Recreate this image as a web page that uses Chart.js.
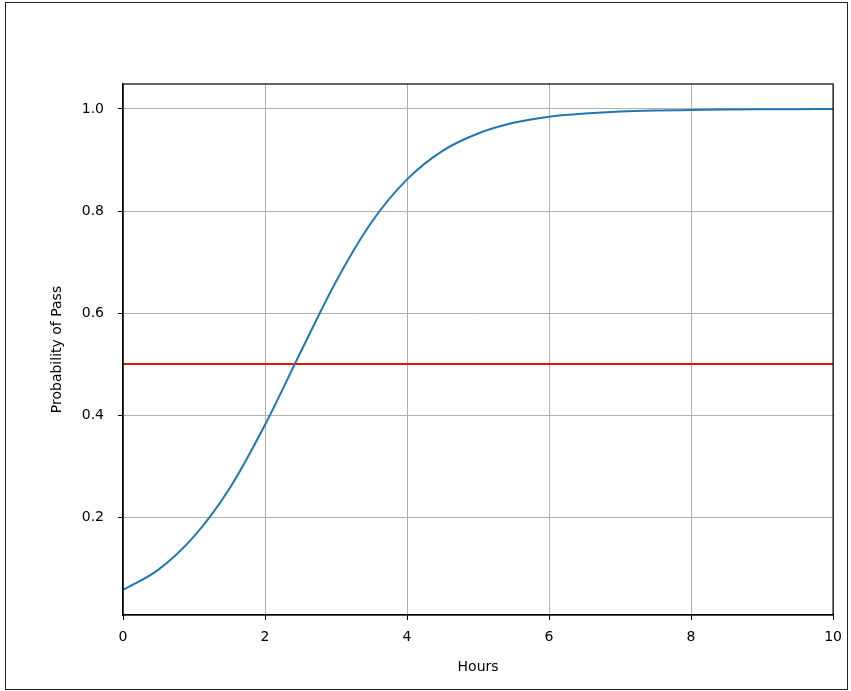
<!DOCTYPE html>
<html><head><meta charset="utf-8">
<script src="https://cdn.jsdelivr.net/npm/chart.js@4"></script>
<style>
html,body{margin:0;padding:0;background:#fff;overflow:hidden}
#wrap{position:absolute;left:0;top:0;width:851px;height:691px}
#frame{position:absolute;left:5px;top:2px;width:841px;height:686px;border:1.5px solid #222;pointer-events:none}
</style></head><body>
<div id="wrap"><canvas id="c" width="851" height="691"></canvas></div>
<div id="frame"></div>
<script>
const hours = [0,0.5,1,1.5,2,2.5,3,3.5,4,4.5,5,5.5,6,6.5,7,7.5,8,8.5,9,9.5,10];
const probPass = [0.057,0.097,0.162,0.256,0.381,0.523,0.662,0.778,0.862,0.918,0.952,0.973,0.985,0.991,0.995,0.997,0.998,0.999,0.9995,0.9997,0.9998];
const threshold = 0.5;
const xTicks = [0,2,4,6,8,10];
const yTicks = [0.2,0.4,0.6,0.8,1.0];
const xTitle = 'Hours', yTitle = 'Probability of Pass';
const font = {family:'"DejaVu Sans"', size:14};
new Chart(document.getElementById('c'), {
  type:'line',
  data:{datasets:[
    {data:hours.map((h,i)=>({x:h,y:probPass[i]})),borderColor:'#1f77b4',borderWidth:2,pointRadius:0,cubicInterpolationMode:'monotone'},
    {data:[{x:0,y:threshold},{x:10,y:threshold}],borderColor:'#e8120c',borderWidth:2,pointRadius:0}
  ]},
  options:{
    responsive:false,animation:false,devicePixelRatio:1,
    layout:{padding:{top:84,right:14,left:0,bottom:0}},
    plugins:{legend:{display:false},tooltip:{enabled:false}},
    scales:{
      x:{type:'linear',min:0,max:10,
        afterBuildTicks:s=>{s.ticks=xTicks.map(v=>({value:v}));},
        afterFit:s=>{s.height=76;},
        ticks:{font,color:'#000',padding:9,maxRotation:0},
        grid:{color:'#b0b0b0',lineWidth:1,tickLength:5,tickColor:'#000'},
        border:{color:'#000',width:1.2}},
      y:{type:'linear',min:0.008,max:1.049,
        afterBuildTicks:s=>{s.ticks=yTicks.map(v=>({value:v}));},
        afterFit:s=>{s.width=123;},
        ticks:{font,color:'#000',padding:14,callback:v=>v.toFixed(1)},
        grid:{color:'#b0b0b0',lineWidth:1,tickLength:5,tickColor:'#000'},
        border:{color:'#000',width:1.2}}
    }
  },
  plugins:[{id:'box',afterDraw(c){const a=c.chartArea,x=c.ctx;x.save();x.strokeStyle='#000';x.lineWidth=1.2;x.strokeRect(a.left,a.top,a.right-a.left,a.bottom-a.top);
    x.fillStyle='#000';x.font='14px "DejaVu Sans"';x.textAlign='center';x.textBaseline='middle';
    x.fillText(xTitle,(a.left+a.right)/2,667);
    x.translate(57,(a.top+a.bottom)/2);x.rotate(-Math.PI/2);x.fillText(yTitle,0,0);
    x.restore();}}]
});
</script></body></html>
